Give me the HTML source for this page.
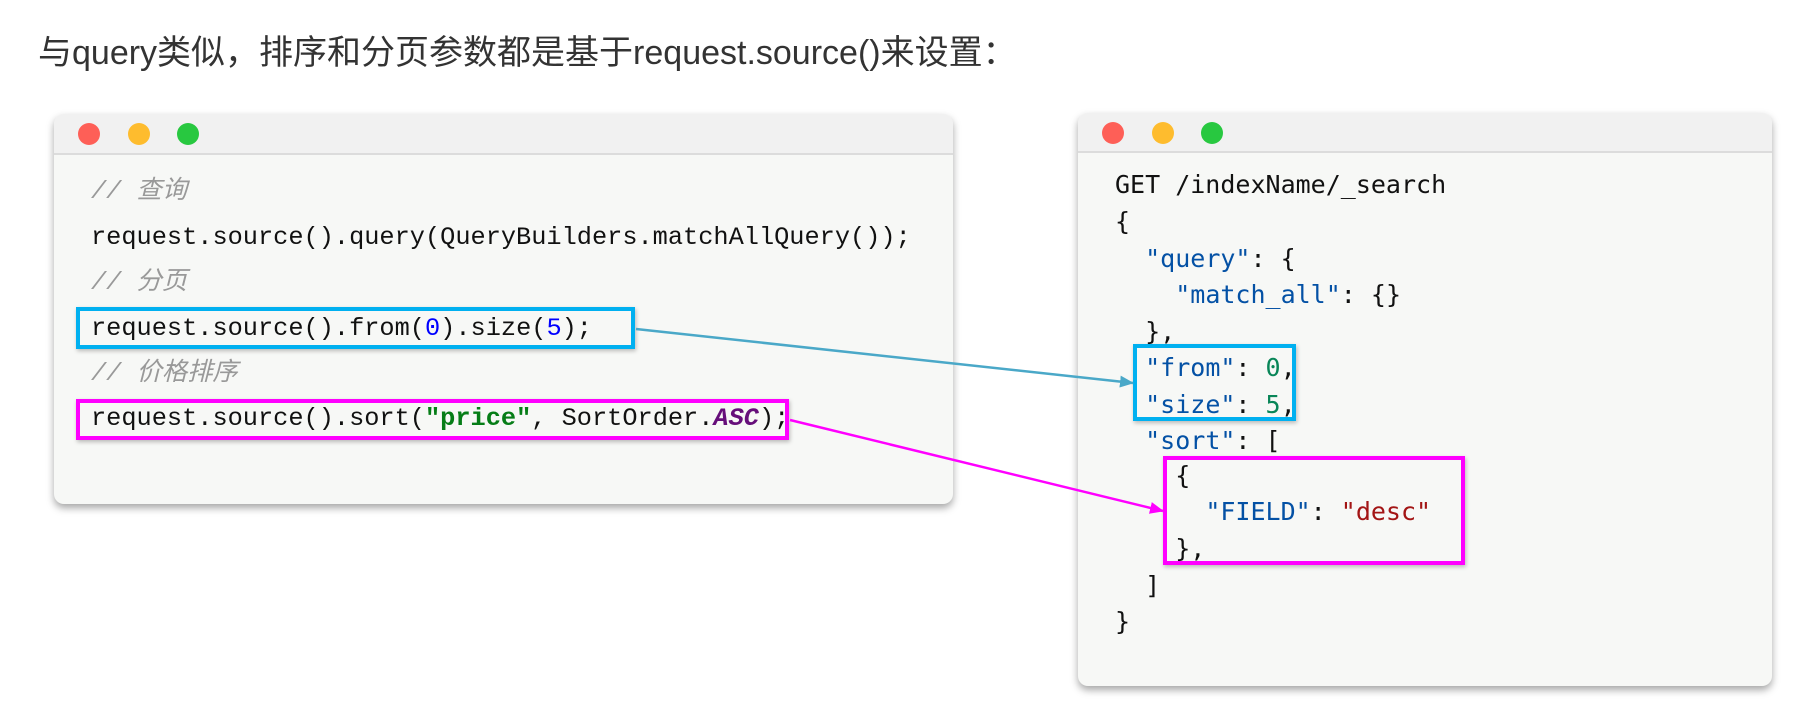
<!DOCTYPE html>
<html><head><meta charset="utf-8"><style>
body{margin:0;width:1804px;height:725px;background:#fff;position:relative;overflow:hidden;font-family:"Liberation Sans","Noto Sans CJK SC",sans-serif}
.title{position:absolute;left:38px;top:25px;font-size:34px;color:#333;font-family:"Liberation Sans","Noto Sans CJK SC",sans-serif;white-space:nowrap}
.win{position:absolute;background:#f7f8f6;border-radius:10px;box-shadow:0 4px 8px rgba(0,0,0,.35);overflow:hidden}
.bar{position:absolute;left:0;top:0;right:0;height:39px;background:#f1f1f1;border-bottom:2px solid #dcdcdc}
.dot{position:absolute;top:9px;width:22px;height:22px;border-radius:50%}
.l{position:absolute;white-space:pre;font-size:25.3px;line-height:30px}
.lm{font-family:"Liberation Mono","Noto Sans CJK SC",monospace;color:#111}
.rm{font-family:"DejaVu Sans Mono",monospace;color:#111;font-size:25px}
.c{color:#999;font-style:italic}
.k{color:#0451a5}.n{color:#098658}.s{color:#a31515}
.box{position:absolute;border:4px solid;box-sizing:border-box;box-shadow:1px 2px 4px rgba(0,0,0,.25)}
</style></head><body>
<div class="title">与query类似，排序和分页参数都是基于request.source()来设置：</div>

<div class="win" style="left:54px;top:114px;width:899px;height:390px">
 <div class="bar"><div class="dot" style="left:24px;background:#fe5f57"></div><div class="dot" style="left:74px;background:#febc2e"></div><div class="dot" style="left:123px;background:#28c840"></div></div>
</div>
<div class="l lm c" style="left:91px;top:177px">// 查询</div>
<div class="l lm" style="left:91px;top:223px">request.source().query(QueryBuilders.matchAllQuery());</div>
<div class="l lm c" style="left:91px;top:268px">// 分页</div>
<div class="l lm" style="left:91px;top:314px">request.source().from(<span style="color:#00f">0</span>).size(<span style="color:#00f">5</span>);</div>
<div class="l lm c" style="left:91px;top:359px">// 价格排序</div>
<div class="l lm" style="left:91px;top:404px">request.source().sort(<b style="color:#067d17">"price"</b>, SortOrder.<b style="color:#660e7a;font-style:italic">ASC</b>);</div>
<div class="box" style="left:76px;top:307px;width:559px;height:42px;border-color:#00b0f0"></div>
<div class="box" style="left:76px;top:399px;width:713px;height:41px;border-color:#f0f"></div>

<div class="win" style="left:1078px;top:113px;width:694px;height:573px">
 <div class="bar" style="height:38px"><div class="dot" style="left:24px;background:#fe5f57"></div><div class="dot" style="left:74px;background:#febc2e"></div><div class="dot" style="left:123px;background:#28c840"></div></div>
</div>
<div class="l rm" style="left:1115px;top:170px">GET /indexName/_search</div>
<div class="l rm" style="left:1115px;top:207px">{</div>
<div class="l rm" style="left:1115px;top:244px">  <span class="k">"query"</span>: {</div>
<div class="l rm" style="left:1115px;top:280px">    <span class="k">"match_all"</span>: {}</div>
<div class="l rm" style="left:1115px;top:317px">  },</div>
<div class="l rm" style="left:1115px;top:353px">  <span class="k">"from"</span>: <span class="n">0</span>,</div>
<div class="l rm" style="left:1115px;top:390px">  <span class="k">"size"</span>: <span class="n">5</span>,</div>
<div class="l rm" style="left:1115px;top:426px">  <span class="k">"sort"</span>: [</div>
<div class="l rm" style="left:1115px;top:461px">    {</div>
<div class="l rm" style="left:1115px;top:497px">      <span class="k">"FIELD"</span>: <span class="s">"desc"</span></div>
<div class="l rm" style="left:1115px;top:534px">    },</div>
<div class="l rm" style="left:1115px;top:571px">  ]</div>
<div class="l rm" style="left:1115px;top:607px">}</div>
<div class="box" style="left:1133px;top:344px;width:163px;height:77px;border-color:#00b0f0"></div>
<div class="box" style="left:1163px;top:456px;width:302px;height:109px;border-color:#f0f"></div>

<svg style="position:absolute;left:0;top:0" width="1804" height="725">
<defs>
<marker id="ab" markerWidth="14" markerHeight="12" refX="13" refY="6" orient="auto" markerUnits="userSpaceOnUse"><path d="M0,0L14,6L0,12z" fill="#4aa8c8"/></marker>
<marker id="am" markerWidth="14" markerHeight="12" refX="13" refY="6" orient="auto" markerUnits="userSpaceOnUse"><path d="M0,0L14,6L0,12z" fill="#f0f"/></marker>
</defs>
<line x1="636" y1="329" x2="1133" y2="383" stroke="#4aa8c8" stroke-width="2.5" marker-end="url(#ab)"/>
<line x1="790" y1="420" x2="1163" y2="511" stroke="#f0f" stroke-width="2.5" marker-end="url(#am)"/>
</svg>
</body></html>
